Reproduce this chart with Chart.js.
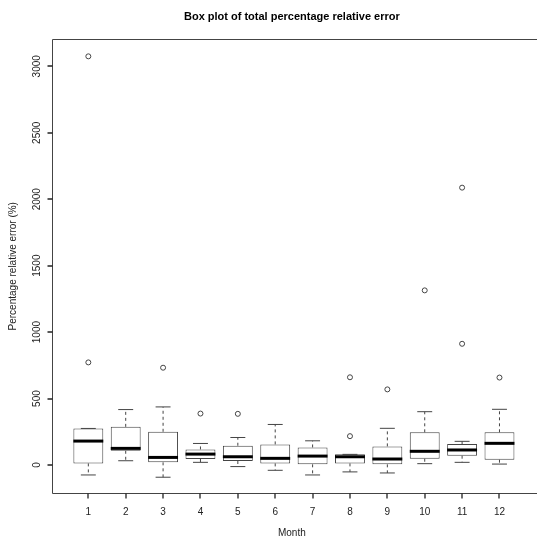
<!DOCTYPE html>
<html>
<head>
<meta charset="utf-8">
<script src="https://cdn.jsdelivr.net/npm/chart.js@4.4.1/dist/chart.umd.min.js"></script>
<style>
  html, body { margin: 0; padding: 0; background: #fff; overflow: hidden; }
  canvas { display: block; }
</style>
</head>
<body>
<canvas id="boxplot" width="537" height="541"></canvas>
<script>
// Box plot numbers (percent)
const months = [1, 2, 3, 4, 5, 6, 7, 8, 9, 10, 11, 12];
const lowerWhisker = [-75, 32, -92, 20, -12, -40, -75, -52, -60, 10, 20, 7];
const q1 = [12, 107, 20, 45, 30, 12, 5, 12, 5, 47, 70, 40];
const median = [180, 125, 57, 82, 62, 50, 67, 62, 45, 103, 113, 163];
const q3 = [275, 287, 250, 117, 145, 155, 132, 80, 140, 246, 158, 246];
const upperWhisker = [275, 417, 437, 162, 207, 305, 182, 80, 276, 401, 178, 419];

// outliers, one entry per circle
const outlierMonth = [1, 1, 3, 4, 5, 8, 8, 9, 10, 11, 11, 12];
const outlierValue = [3075, 772, 732, 387, 385, 660, 217, 569, 1314, 2087, 912, 658];

const yTicks = [0, 500, 1000, 1500, 2000, 2500, 3000];

const lineCol = '#444';
const tickLen = 5;

// whiskers, staples and medians
const boxExtras = {
  id: 'boxExtras',
  afterDatasetsDraw(chart) {
    const ctx = chart.ctx;
    const x = chart.scales.x, y = chart.scales.y;
    const meta = chart.getDatasetMeta(0);
    ctx.save();
    months.forEach(function(m, i) {
      const cx = x.getPixelForValue(m);
      const half = meta.data[i].width / 2;
      const yQ1 = y.getPixelForValue(q1[i]);
      const yQ3 = y.getPixelForValue(q3[i]);
      const yLo = y.getPixelForValue(lowerWhisker[i]);
      const yHi = y.getPixelForValue(upperWhisker[i]);
      ctx.strokeStyle = lineCol;
      ctx.lineWidth = 1;
      // dashed whiskers
      ctx.setLineDash([3, 3]);
      ctx.beginPath();
      if (yHi < yQ3) { ctx.moveTo(cx, yQ3); ctx.lineTo(cx, yHi); }
      if (yLo > yQ1) { ctx.moveTo(cx, yQ1); ctx.lineTo(cx, yLo); }
      ctx.stroke();
      ctx.setLineDash([]);
      // staples
      ctx.beginPath();
      ctx.moveTo(cx - half / 2, yHi); ctx.lineTo(cx + half / 2, yHi);
      ctx.moveTo(cx - half / 2, yLo); ctx.lineTo(cx + half / 2, yLo);
      ctx.stroke();
      // median
      ctx.strokeStyle = '#000';
      ctx.lineWidth = 3;
      ctx.beginPath();
      const ym = y.getPixelForValue(median[i]);
      ctx.moveTo(cx - half, ym); ctx.lineTo(cx + half, ym);
      ctx.stroke();
    });
    ctx.restore();
  },
  // frame (its right side is off the picture) and the tick marks
  afterDraw(chart) {
    const ctx = chart.ctx;
    const x = chart.scales.x, y = chart.scales.y;
    const a = chart.chartArea;
    const l = Math.round(a.left) + 0.5, t = Math.round(a.top) + 0.5, b = Math.round(a.bottom) + 0.5;
    ctx.save();
    ctx.strokeStyle = lineCol;
    ctx.lineWidth = 1;
    ctx.setLineDash([]);
    ctx.beginPath();
    ctx.moveTo(chart.width, t); ctx.lineTo(l, t); ctx.lineTo(l, b); ctx.lineTo(chart.width, b);
    ctx.stroke();
    // ticks a touch heavier so they read like the antialiased R marks
    ctx.strokeStyle = '#222';
    ctx.lineWidth = 1.3;
    ctx.beginPath();
    months.forEach(function(v) {
      const px = Math.round(x.getPixelForValue(v));
      ctx.moveTo(px, b); ctx.lineTo(px, b + tickLen);
    });
    yTicks.forEach(function(v) {
      const py = Math.round(y.getPixelForValue(v));
      ctx.moveTo(l, py); ctx.lineTo(l - tickLen, py);
    });
    ctx.stroke();
    ctx.restore();
  }
};

const ctx = document.getElementById('boxplot').getContext('2d');
Chart.defaults.font.family = '"Liberation Sans", Arial, Helvetica, sans-serif';

const chart = new Chart(ctx, {
  type: 'bar',
  data: {
    datasets: [{
      label: 'box',
      data: months.map(function(m, i) { return { x: m, y: [q1[i], q3[i]] }; }),
      backgroundColor: '#fff',
      borderColor: lineCol,
      borderWidth: 1,
      borderSkipped: false,
      barPercentage: 0.8,
      categoryPercentage: 1
    }, {
      type: 'scatter',
      label: 'outliers',
      data: outlierMonth.map(function(m, i) { return { x: m, y: outlierValue[i] }; }),
      pointStyle: 'circle',
      pointRadius: 2.5,
      pointBorderWidth: 1,
      pointBorderColor: lineCol,
      pointBackgroundColor: 'rgba(0,0,0,0)'
    }]
  },
  options: {
    responsive: false,
    animation: false,
    devicePixelRatio: 1,
    layout: { padding: 0 },
    plugins: {
      legend: { display: false },
      tooltip: { enabled: false },
      title: {
        display: true,
        fullSize: false,
        text: 'Box plot of total percentage relative error',
        color: '#000',
        font: { size: 11, weight: 'bold' },
        padding: { top: 10, bottom: 16 }
      }
    },
    scales: {
      x: {
        type: 'linear',
        min: 0.02,
        max: 12.87,
        offset: false,
        afterBuildTicks: function(s) { s.ticks = months.map(function(v) { return { value: v }; }); },
        afterFit: function(s) { s.height = 47.7; s.paddingLeft = 0; s.paddingRight = 0; },
        grid: { display: false, tickLength: tickLen },
        border: { display: false },
        ticks: { color: '#222', font: { size: 10 }, padding: 8, maxRotation: 0 },
        title: { display: true, text: 'Month', color: '#222', font: { size: 10 }, padding: { top: 0, bottom: 2 } }
      },
      y: {
        type: 'linear',
        min: -213,
        max: 3204,
        afterBuildTicks: function(s) { s.ticks = yTicks.map(function(v) { return { value: v }; }); },
        afterFit: function(s) { s.width = 51.7; },
        grid: { display: false, tickLength: tickLen },
        border: { display: false },
        ticks: {
          color: '#222', font: { size: 10 }, padding: -2, minRotation: 90, maxRotation: 90,
          crossAlign: 'center',
          callback: function(v) { return String(v); }
        },
        title: { display: true, text: 'Percentage relative error (%)', color: '#222', font: { size: 10 }, padding: { top: 7, bottom: 0 } }
      }
    }
  },
  plugins: [boxExtras]
});
</script>
</body>
</html>
